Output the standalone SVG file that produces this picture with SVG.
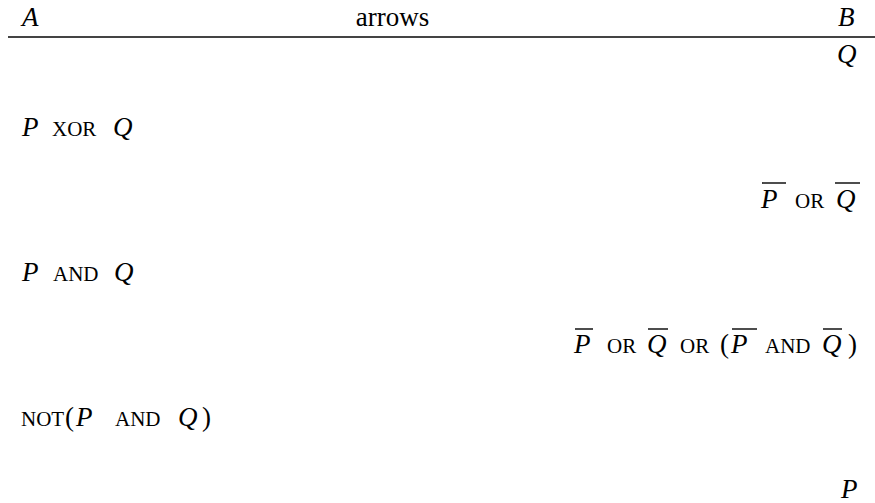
<svg xmlns="http://www.w3.org/2000/svg" width="875" height="503" viewBox="0 0 875 503">
<rect width="875" height="503" fill="#fff"/>
<svg id="header" width="875" height="503" overflow="visible">
<text x="22" y="26" font-size="27" font-family="Liberation Serif" font-style="italic">A</text>
<text x="392.5" y="26" font-size="27" font-family="Liberation Serif" text-anchor="middle">arrows</text>
<text x="838" y="26" font-size="27" font-family="Liberation Serif" font-style="italic">B</text>
<line x1="8" y1="37" x2="875" y2="37" stroke="#444" stroke-width="1.8"/>
</svg>
<svg id="connectors" width="875" height="503" overflow="visible"/>
<svg id="row1" width="875" height="503" overflow="visible">
<text x="837" y="63" font-size="27" font-family="Liberation Serif" font-style="italic">Q</text>
</svg>
<svg id="row2" width="875" height="503" overflow="visible">
<text x="22" y="135.5" font-size="27" font-family="Liberation Serif" font-style="italic">P</text>
<text x="52" y="135.5" font-size="21" font-family="Liberation Serif">XOR</text>
<text x="113" y="135.5" font-size="27" font-family="Liberation Serif" font-style="italic">Q</text>
</svg>
<svg id="row3" width="875" height="503" overflow="visible">
<text x="761" y="208" font-size="27" font-family="Liberation Serif" font-style="italic">P</text>
<text x="795" y="208" font-size="21" font-family="Liberation Serif">OR</text>
<text x="836" y="208" font-size="27" font-family="Liberation Serif" font-style="italic">Q</text>
<line x1="762" y1="183" x2="786" y2="183" stroke="#000" stroke-width="1.4"/>
<line x1="835" y1="183" x2="860" y2="183" stroke="#000" stroke-width="1.4"/>
</svg>
<svg id="row4" width="875" height="503" overflow="visible">
<text x="22" y="280.5" font-size="27" font-family="Liberation Serif" font-style="italic">P</text>
<text x="53" y="280.5" font-size="21" font-family="Liberation Serif">AND</text>
<text x="114" y="280.5" font-size="27" font-family="Liberation Serif" font-style="italic">Q</text>
</svg>
<svg id="row5" width="875" height="503" overflow="visible">
<text x="574" y="353" font-size="27" font-family="Liberation Serif" font-style="italic">P</text>
<text x="607" y="353" font-size="21" font-family="Liberation Serif">OR</text>
<text x="647" y="353" font-size="27" font-family="Liberation Serif" font-style="italic">Q</text>
<text x="680" y="353" font-size="21" font-family="Liberation Serif">OR</text>
<text x="720" y="353" font-size="27" font-family="Liberation Serif">(</text>
<text x="731" y="353" font-size="27" font-family="Liberation Serif" font-style="italic">P</text>
<text x="765" y="353" font-size="21" font-family="Liberation Serif">AND</text>
<text x="822" y="353" font-size="27" font-family="Liberation Serif" font-style="italic">Q</text>
<text x="848" y="353" font-size="27" font-family="Liberation Serif">)</text>
<line x1="575" y1="329" x2="593" y2="329" stroke="#000" stroke-width="1.4"/>
<line x1="648" y1="329" x2="668" y2="329" stroke="#000" stroke-width="1.4"/>
<line x1="732" y1="329" x2="757" y2="329" stroke="#000" stroke-width="1.4"/>
<line x1="823" y1="329" x2="842" y2="329" stroke="#000" stroke-width="1.4"/>
</svg>
<svg id="row6" width="875" height="503" overflow="visible">
<text x="21" y="425.5" font-size="21" font-family="Liberation Serif">NOT</text>
<text x="65" y="425.5" font-size="27" font-family="Liberation Serif">(</text>
<text x="76" y="425.5" font-size="27" font-family="Liberation Serif" font-style="italic">P</text>
<text x="115" y="425.5" font-size="21" font-family="Liberation Serif">AND</text>
<text x="178" y="425.5" font-size="27" font-family="Liberation Serif" font-style="italic">Q</text>
<text x="202" y="425.5" font-size="27" font-family="Liberation Serif">)</text>
</svg>
<svg id="row7" width="875" height="503" overflow="visible">
<text x="841" y="498" font-size="27" font-family="Liberation Serif" font-style="italic">P</text>
</svg>
</svg>
